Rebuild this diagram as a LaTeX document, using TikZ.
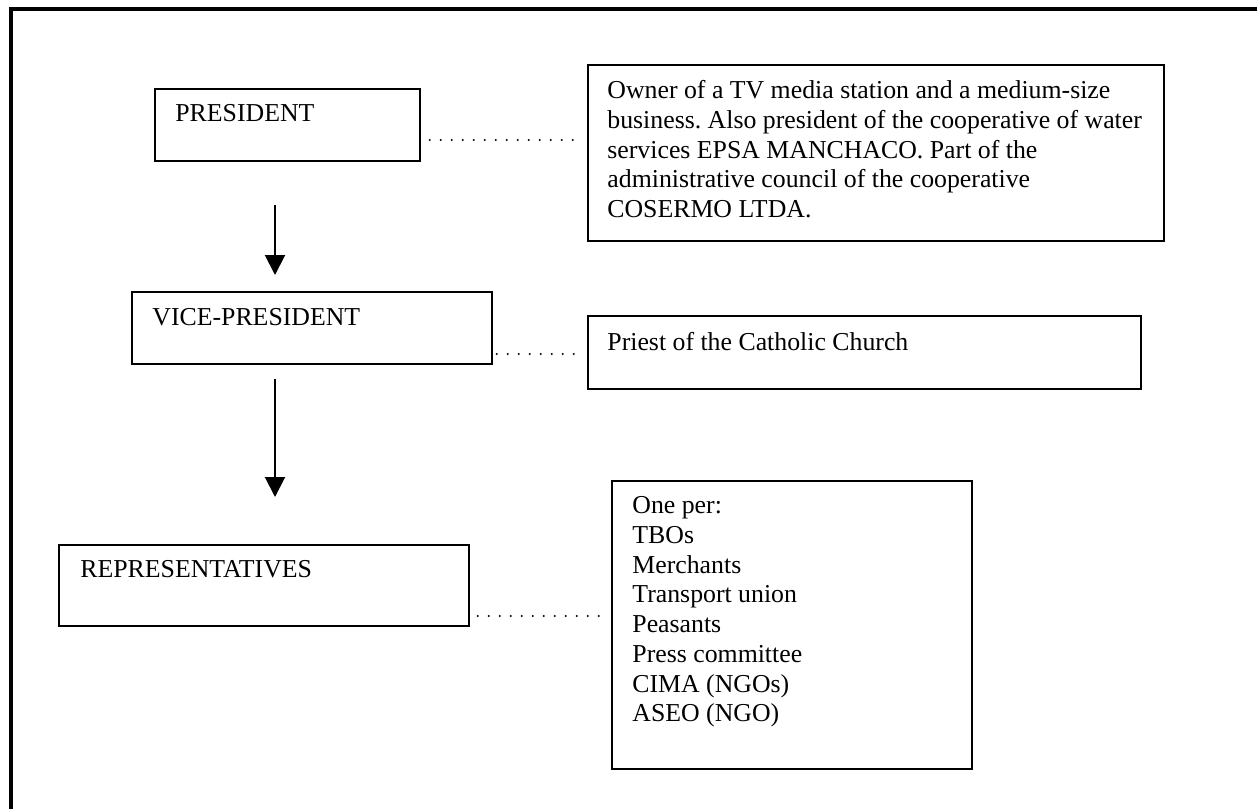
\documentclass[tikz,border=0pt]{standalone}
\usepackage{fontspec}
\setmainfont{Liberation Serif}
\usetikzlibrary{arrows.meta,calc}
\frenchspacing
\begin{document}
\begin{tikzpicture}[x=0.5pt,y=-0.5pt,
  box/.style={draw,line width=0.9pt,anchor=north west,inner sep=0pt},
  txt/.style={anchor=base west,inner sep=0pt,font=\fontsize{12.9}{14.85}\selectfont},
  mtxt/.style={anchor=north west,inner sep=0pt,align=left,font=\fontsize{12.9}{14.85}\selectfont},
  arr/.style={line width=1pt,-{Triangle[width=10pt,length=10pt]}},
  dotline/.style={line width=1.1pt,line cap=round,dash pattern=on 0pt off 5.5pt}]
\useasboundingbox (0,0) rectangle (1257,808);
\clip (0,0) rectangle (1257,808);
% page frame
\draw[line width=2pt] (11.3,830) -- (11.3,9) -- (1280,9);
% boxes
\node[box,minimum width=132.5pt,minimum height=36pt] (pres) at (154,88) {};
\node[box,minimum width=288pt,minimum height=88pt] (bio) at (587,64) {};
\node[box,minimum width=180pt,minimum height=36pt] (vp) at (131,291) {};
\node[box,minimum width=276.5pt,minimum height=36.5pt] (priest) at (587,315) {};
\node[box,minimum width=205pt,minimum height=40.5pt] (reps) at (58,544) {};
\node[box,minimum width=180pt,minimum height=144pt] (oneper) at (611,480) {};
% texts
\node[txt] (presT) at (175,121) {PRESIDENT};
\node[txt] (vpT) at (152,325) {VICE-PRESIDENT};
\node[txt] (repsT) at (80,577) {REPRESENTATIVES};
\node[txt] (priestT) at (607,350) {Priest of the Catholic Church};
\node[mtxt] (bioT) at (607,77.5) {\strut Owner of a TV media station and a medium-size\\
business. Also president of the cooperative of water\\
services EPSA MANCHACO. Part of the\\
administrative council of the cooperative\\
COSERMO LTDA.};
\node[mtxt] (oneperT) at (632,492.7) {\strut One per:\\
TBOs\\
Merchants\\
Transport union\\
Peasants\\
Press committee\\
CIMA (NGOs)\\
ASEO (NGO)};
% arrows
\draw[arr,shorten <=21.5pt,shorten >=8pt] (pres.south -| 275,0) -- (vp.north -| 275,0);
\draw[arr,shorten <=7pt,shorten >=23.5pt] (vp.south -| 275,0) -- (reps.north -| 275,0);
% dotted connectors
\draw[dotline,shorten <=4.5pt,shorten >=2.5pt] (pres.east |- 0,140) -- (bio.west |- 0,140);
\draw[dotline,shorten <=2pt,shorten >=2.5pt] (vp.east |- 0,354) -- (priest.west |- 0,354);
\draw[dotline,shorten <=4pt,shorten >=2pt] (reps.east |- 0,616) -- (oneper.west |- 0,616);
\end{tikzpicture}
\end{document}
